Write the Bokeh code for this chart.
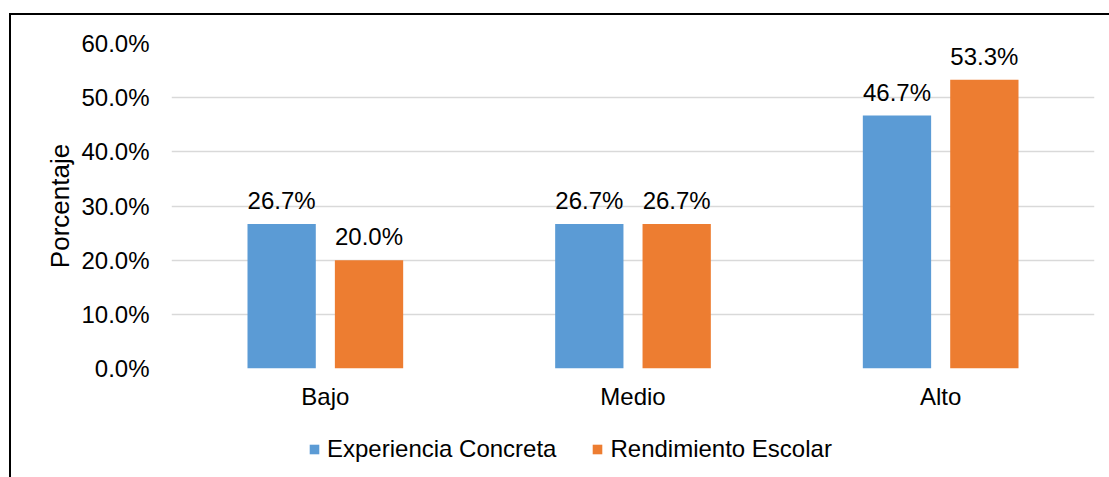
from bokeh.plotting import figure
from bokeh.layouts import column
from bokeh.models import (ColumnDataSource, LabelSet, Legend, LegendItem, NumeralTickFormatter,
                          FixedTicker, Range1d)
from bokeh.core.properties import value
from bokeh.transform import dodge
from bokeh.embed import file_html
from bokeh.resources import INLINE

categories = ["Bajo", "Medio", "Alto"]
experiencia = [0.267, 0.267, 0.467]
rendimiento = [0.200, 0.267, 0.533]
exp_labels = ["26.7%", "26.7%", "46.7%"]
ren_labels = ["20.0%", "26.7%", "53.3%"]
y_ticks = [0.0, 0.1, 0.2, 0.3, 0.4, 0.5, 0.6]
series_names = ["Experiencia Concreta", "Rendimiento Escolar"]
series_colors = ["#5B9BD5", "#ED7D31"]

src = ColumnDataSource(dict(cat=categories, exp=experiencia, ren=rendimiento,
                            exp_l=exp_labels, ren_l=ren_labels))

FONT = "Liberation Sans"
FS = "24px"

p = figure(x_range=categories, y_range=(0, 0.6), width=1098, height=415,
           output_backend="svg", toolbar_location=None,
           min_border_left=160, min_border_right=15, min_border_top=28, min_border_bottom=62)
p.outline_line_color = None
p.x_range.range_padding = 0

BW = 0.222
OFF = 0.142
r1 = p.vbar(x=dodge("cat", -OFF, range=p.x_range), top="exp", width=BW, source=src,
            fill_color=series_colors[0], line_color=None)
r2 = p.vbar(x=dodge("cat", OFF, range=p.x_range), top="ren", width=BW, source=src,
            fill_color=series_colors[1], line_color=None)

for col, ycol, off in (("exp_l", "exp", -OFF), ("ren_l", "ren", OFF)):
    lbl = LabelSet(x=dodge("cat", off, range=p.x_range), y=ycol, text=col, source=src,
                   text_align="center", text_baseline="alphabetic", y_offset=15,
                   text_font=value(FONT), text_font_size=value(FS), text_color="#000000")
    p.add_layout(lbl)

p.yaxis.ticker = FixedTicker(ticks=y_ticks)
p.yaxis.formatter = NumeralTickFormatter(format="0.0%")
p.yaxis.axis_line_color = None
p.yaxis.major_tick_line_color = None
p.yaxis.minor_tick_line_color = None
p.yaxis.major_label_standoff = 16
p.yaxis.major_label_text_font = FONT
p.yaxis.major_label_text_font_size = FS
p.yaxis.major_label_text_color = "#000000"
p.yaxis.axis_label = "Porcentaje"
p.yaxis.axis_label_text_font = FONT
p.yaxis.axis_label_text_font_size = "26px"
p.yaxis.axis_label_text_font_style = "normal"
p.yaxis.axis_label_text_color = "#000000"
p.yaxis.axis_label_standoff = 3

p.xaxis.axis_line_color = None
p.xaxis.major_tick_line_color = None
p.xaxis.minor_tick_line_color = None
p.xaxis.major_label_standoff = 8
p.xaxis.major_label_text_font = FONT
p.xaxis.major_label_text_font_size = FS
p.xaxis.major_label_text_color = "#000000"

p.xgrid.grid_line_color = None
p.ygrid.grid_line_color = "#D9D9D9"
p.ygrid.grid_line_width = 1.3

# legend strip (frame aligned with the chart above by the column layout)
q = figure(x_range=Range1d(0, 1), y_range=Range1d(0, 1), width=1098, height=47,
           output_backend="svg", toolbar_location=None,
           min_border=0, x_axis_location=None, y_axis_location=None)
q.outline_line_color = None
q.background_fill_color = None
q.border_fill_color = None
items = []
for name, colr in zip(series_names, series_colors):
    r = q.vbar(x=[-10], top=[0], bottom=[0], width=0.0, fill_color=colr, line_color=None)
    items.append(LegendItem(label=name, renderers=[r]))

legend = Legend(items=items, orientation="horizontal", location=(137, 14),
                padding=0, margin=0, spacing=35, label_standoff=7,
                glyph_width=12, glyph_height=12, label_height=20,
                label_text_font=FONT, label_text_font_size=FS, label_text_color="#000000",
                border_line_color=None, background_fill_alpha=0)
q.center = [legend]

layout = column(p, q, spacing=0)
layout.styles = {"margin-left": "9px", "margin-top": "13px",
                 "border-left": "2px solid #000", "border-top": "2px solid #000"}

open("out.html", "w").write(file_html(layout, INLINE))
